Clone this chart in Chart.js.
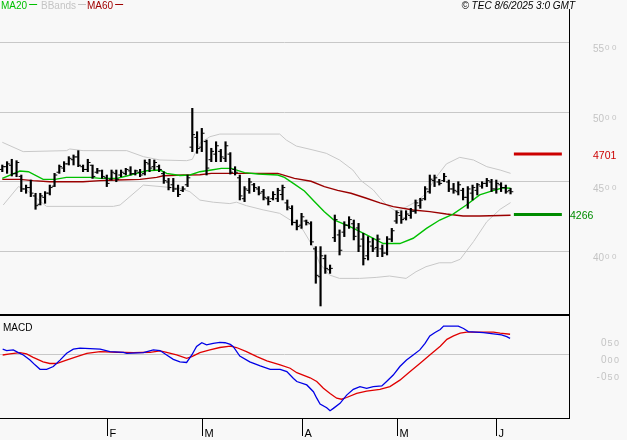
<!DOCTYPE html>
<html><head><meta charset="utf-8">
<script src="https://cdn.jsdelivr.net/npm/chart.js@4.4.1/dist/chart.umd.min.js"></script>
<style>
html,body{margin:0;padding:0;background:#f8f8f8;}
#wrap{position:relative;width:627px;height:440px;overflow:hidden;background:#f8f8f8;}
canvas{position:absolute;left:0;}
#c1{top:0;} #c2{top:315px;}
</style></head><body>
<div id="wrap"><canvas id="c1" width="627" height="315"></canvas><canvas id="c2" width="627" height="125"></canvas></div>
<script>
// ---------- data ----------
const highs = [46.22,46.46,46.63,46.53,45.50,44.78,45.14,44.19,44.19,44.31, 44.78,45.62,46.22,46.46,46.82,46.94,47.25,46.22,46.63,46.22,
 45.98,45.86,45.50,45.86,45.86,45.86,45.98,46.10,45.86,45.91, 46.58,46.63,46.58,46.22,45.74,45.26,45.26,44.78,44.67,45.50,
 50.29,48.61,48.85,48.01,47.42,47.89,47.34,47.89,47.11,46.10, 45.50,44.67,45.26,44.90,44.67,44.47,43.95,44.31,44.55,44.78,
 43.71,43.30,42.27,42.75,42.27,42.15,40.36,40.36,39.76,39.04, 42.63,41.56,42.15,42.51,42.27,42.03,41.32,41.08,40.96,41.20,
 40.48,41.08,41.67,42.94,42.94,42.94,43.11,43.71,43.83,44.67, 45.50,45.50,45.19,45.62,45.14,44.90,45.02,44.55,44.67,44.78,
 44.90,45.02,45.26,45.19,45.14,44.95,44.78,44.55];
const lows = [45.74,45.62,45.43,45.38,44.31,44.19,43.95,43.04,43.35,43.47, 44.07,44.67,45.62,45.74,46.22,46.22,46.10,45.74,45.74,45.26,
 45.62,45.26,44.67,45.14,45.02,45.38,45.50,45.50,45.50,45.38, 45.50,45.74,45.86,45.74,44.90,44.43,44.31,43.95,44.31,44.67,
 47.18,47.06,47.18,45.50,46.46,46.46,46.46,46.46,45.57,45.50, 43.71,43.59,44.19,44.31,44.07,43.71,43.35,43.71,43.59,43.71,
 42.99,41.91,41.56,41.67,41.91,40.48,37.73,36.10,38.44,38.44, 40.72,39.76,41.08,41.67,40.84,40.00,39.04,39.40,40.00,39.64,
 39.64,39.76,40.72,42.03,42.03,42.27,42.39,42.75,43.11,43.71, 44.19,44.67,44.78,45.02,44.31,44.19,44.07,43.71,43.11,43.71,
 44.07,44.55,44.67,44.31,44.19,44.31,44.19,44.14];
const opens = [45.9,46.1,46.2,45.6,45.4,44.5,44.6,44.0,43.4,43.9, 44.2,44.7,45.7,46.0,46.3,46.6,46.8,46.1,45.9,46.2,
 45.7,45.8,45.3,45.2,45.6,45.5,45.6,45.8,45.6,45.7, 45.6,46.3,46.1,46.1,45.6,45.0,44.8,44.5,44.4,44.8,
 47.5,48.2,47.5,47.9,46.6,47.0,47.2,46.7,47.0,45.9, 45.3,43.8,44.4,44.8,44.5,44.3,43.8,43.8,43.8,44.1,
 43.5,43.1,42.1,41.9,42.2,42.0,40.2,38.2,39.5,38.7, 41.0,41.2,41.4,41.9,42.0,41.7,40.9,39.7,40.4,40.3,
 40.2,39.9,40.9,42.2,42.6,42.4,42.6,42.9,43.3,43.8, 44.3,45.1,45.0,45.1,45.0,44.5,44.3,44.4,43.9,44.2,
 44.4,44.7,44.9,45.0,44.5,44.8,44.6,44.4];
const closes = [46.1,46.3,45.6,46.4,44.5,44.6,44.2,43.3,44.0,44.2, 44.6,45.5,46.1,46.3,46.7,46.8,46.2,45.9,46.4,45.4,
 45.8,45.4,44.9,45.7,45.2,45.7,45.9,45.6,45.8,45.5, 46.4,46.0,46.4,45.9,45.1,44.6,44.5,44.1,44.5,45.3,
 48.4,47.4,48.5,46.0,47.2,47.6,46.8,47.6,45.7,45.7, 44.0,44.5,45.0,44.6,44.2,43.9,43.6,44.1,44.4,44.6,
 43.2,42.1,41.8,42.5,42.1,40.7,38.3,39.7,38.8,38.8, 42.3,40.1,41.9,42.3,41.1,40.4,39.5,40.7,40.2,40.9,
 39.9,40.9,41.5,42.8,42.3,42.7,42.9,43.5,43.7,44.5, 45.2,45.3,44.9,45.4,44.5,44.4,44.8,43.9,44.5,44.6,
 44.8,44.9,45.1,44.5,44.9,44.6,44.3,44.3];

const ma20X = [0,3.7,5.5,8.6,11.1,13.5,18.5,20.6,24.1,26.2,28.3,30.4,33.2,34.6,37.4,39.5,41.6,44,46.1,48.2,51,53.8,58,59.4,61.5,63.6,65.7,67.8,69.7,73.2,76.7,80.2,83.7,86.5,89.3,92.1,94.9,97.7,100.5,103.3,105.4,107];
const ma20Y = [45.26,45.79,45.74,45.19,45.19,45.33,45.33,45.26,45.26,45.43,45.62,45.81,45.86,45.62,45.47,45.50,45.74,45.86,45.98,45.98,45.67,45.57,45.50,45.33,44.85,44.35,43.6,42.87,42.30,41.79,41.20,40.58,40.58,40.96,41.67,42.27,42.70,43.35,44.07,44.38,44.59,44.55];
const ma60X = [0,3.7,6.5,10,17,20.6,24.1,29,32.5,33.9,38.1,41.6,44,58,61.5,65,67.8,70.6,73.4,76.5,79.5,82.3,86.5,90,93.5,97,100.5,107];
const ma60Y = [45.19,45.19,45.10,45.02,45.02,45.10,45.14,45.19,45.33,45.45,45.50,45.52,45.62,45.62,45.26,45.05,44.67,44.40,44.19,43.85,43.50,43.23,42.99,42.87,42.70,42.56,42.56,42.61];
const bbUpX = [0,4.4,13.5,14.2,17,26.2,29.7,33.2,38.8,40,41.6,43.7,45.8,58.4,59.8,61.9,65.4,68.2,71,73.8,75.5,78.1,79.4,80.9,83,85,87.2,89.3,91,93.5,96.3,99.2,102,104.8,107];
const bbUpY = [47.85,47.18,47.25,47.37,47.25,47.25,46.82,46.58,46.53,46.63,47.78,48.25,48.44,48.44,48.01,47.58,47.30,47.06,46.58,45.86,45.10,44.43,43.90,43.35,42.87,43.20,43.60,44.20,45.20,46.30,46.77,46.58,46.10,45.86,45.62];
const bbLoX = [0.2,3.4,5.1,9.3,23.4,24.8,29.7,37.4,39.5,41.6,44.4,47.9,49.3,51.4,54.9,58.4,61.2,63.3,65.4,66.8,68.9,71,75.2,78.7,81.5,85,87.1,89.2,92,94.5,96.4,99.2,102,104.8,107];
const bbLoY = [43.35,44.67,44.43,43.25,43.25,43.35,44.78,44.55,44.30,43.70,43.55,43.45,43.55,43.30,43.00,42.75,42.15,41.56,40.36,39.16,38.32,38.08,38.08,38.15,38.25,38.08,38.56,38.92,39.20,39.20,39.45,40.72,42.15,43.04,43.52];

const macdX = [0.08,0.92,2.32,3.37,4.43,5.83,6.88,7.94,9.34,10.74,12.15,13.55,14.95,16.36,20.6,22.67,25.5,26.2,29.7,31.8,33.2,34.6,36.0,37.4,38.8,39.9,40.9,42.0,43.0,44.4,45.8,46.9,48.0,48.6,50.0,52.1,54.3,56.4,58.5,59.9,61.3,62.0,64.1,65.5,66.2,66.9,68.3,69.0,69.7,71.1,72.5,73.9,75.3,76.7,78.1,79.9,80.9,82.3,83.7,85.1,86.5,87.9,89.0,90.0,91.1,92.2,92.9,96.0,97.1,98.1,101.3,103.4,105.1,106.2,106.9];
const macdY = [0.17,0.13,0.15,0.07,0,-0.15,-0.29,-0.42,-0.42,-0.34,-0.15,0.05,0.17,0.20,0.17,0.10,0.08,0.05,0.07,0.15,0.13,0,-0.13,-0.20,-0.22,0,0.25,0.36,0.30,0.34,0.37,0.36,0.31,0.25,-0.03,-0.20,-0.32,-0.42,-0.42,-0.49,-0.69,-0.78,-0.88,-1.08,-1.27,-1.44,-1.55,-1.64,-1.57,-1.42,-1.18,-1.01,-0.93,-0.98,-0.93,-0.91,-0.78,-0.59,-0.34,-0.15,0,0.15,0.34,0.56,0.66,0.75,0.85,0.85,0.78,0.69,0.66,0.62,0.59,0.54,0.49];
const signalX = [0.08,1.6,3.7,5.1,6.5,8.6,10.0,11.4,13.5,15.7,17.8,20.6,24.1,27.6,31.1,33.2,34.6,36.7,38.8,39.9,41.6,43.7,45.8,48.0,49.3,51.4,53.6,55.7,58.5,60.6,62.0,64.8,66.2,67.6,69.0,70.4,71.4,72.5,74.6,76.7,79.5,81.6,83.7,85.8,87.9,90.0,92.2,93.6,95.0,96.4,97.8,103.4,104.8,106.9];
const signalY = [0,0.03,0.07,0.03,-0.07,-0.20,-0.25,-0.25,-0.15,-0.05,0.05,0.10,0.08,0.07,0.08,0.12,0.08,0,-0.10,-0.05,0.07,0.15,0.22,0.26,0.22,0.10,-0.05,-0.17,-0.29,-0.39,-0.52,-0.67,-0.78,-0.98,-1.13,-1.27,-1.30,-1.25,-1.13,-1.06,-1.01,-0.93,-0.74,-0.49,-0.25,0,0.26,0.46,0.56,0.64,0.67,0.67,0.64,0.61];

const priceTicks = [40,45,50,55];
const macdTicks = [0.5,0,-0.5];
const monthLabels = ['F','M','A','M','J'];
const monthIdx = [22,42,63,83,104];
const resistance = 47.01;
const support = 42.66;
const levelX = [107.7,117.8];
const stamp = '© TEC 8/6/2025 3:0 GMT';

// ---------- helpers ----------
const zip = (xs, ys) => xs.map((x, i) => ({x: x, y: ys[i]}));
const FONT = '"Liberation Sans", Arial, sans-serif';
const X_MIN = -0.484, X_MAX = 119.305;
const fitRight = s => { s.width = 58; };

const topDecor = {
  id: 'topDecor',
  afterDraw(chart) {
    const c = chart.ctx, y = chart.scales.y;
    c.save();
    c.textAlign = 'left';
    c.textBaseline = 'alphabetic';
    c.font = '10px ' + FONT;
    const items = [['MA20', '#00c000', 1], ['BBands', '#c4c4c4', 41], ['MA60', '#a00000', 87]];
    items.forEach(([t, col, x0]) => {
      c.fillStyle = col; c.fillText(t, x0, 9);
      const w = c.measureText(t).width;
      c.fillRect(x0 + w + 2, 4, 8, 1);
    });
    c.font = 'italic 10px ' + FONT;
    c.fillStyle = '#000'; c.textAlign = 'right';
    c.fillText(stamp, 575, 9);
    c.textAlign = 'left';
    c.fillRect(569, 9, 1, 306);
    c.fillRect(0, 314, 570, 1);
    priceTicks.forEach(v => {
      const py = y.getPixelForValue(v);
      const parts = v.toFixed(2).split('.');
      c.fillStyle = '#c4c4c4';
      c.font = '10px ' + FONT;
      c.letterSpacing = '0px';
      c.fillText(parts[0], 593, py + 9.7);
      const w = c.measureText(parts[0]).width;
      c.font = '8px ' + FONT;
      c.letterSpacing = '2.5px';
      c.fillText(parts[1], 594 + w, py + 7.6);
      c.letterSpacing = '0px';
    });
    c.font = '10.5px ' + FONT;
    c.fillStyle = '#cc0000';
    c.fillText((resistance * 100).toFixed(0), 593, y.getPixelForValue(resistance) + 4.6);
    c.fillStyle = '#008c00';
    c.fillText((support * 100).toFixed(0), 570, y.getPixelForValue(support) + 4.6);
    c.restore();
  }
};

const botDecor = {
  id: 'botDecor',
  afterDraw(chart) {
    const c = chart.ctx, y = chart.scales.y, x = chart.scales.x;
    c.save();
    c.textAlign = 'left';
    c.textBaseline = 'alphabetic';
    c.fillStyle = '#000';
    c.font = '10px ' + FONT;
    c.fillText('MACD', 3, 16);
    c.fillRect(0, 0, 570, 1);
    c.fillRect(569, 0, 1, 104);
    c.fillRect(0, 103, 570, 1);
    macdTicks.forEach(v => {
      const py = y.getPixelForValue(v);
      const parts = Math.abs(v).toFixed(2).split('.');
      c.fillStyle = '#c4c4c4';
      c.font = '10px ' + FONT;
      c.letterSpacing = '0px';
      if (v < 0) c.fillText('-', 596.5, py + 8.3);
      c.fillText(parts[0], 601, py + 8.3);
      const w = c.measureText(parts[0]).width;
      c.font = '9px ' + FONT;
      c.letterSpacing = '1.5px';
      c.fillText(parts[1], 602 + w, py + 7.6);
      c.letterSpacing = '0px';
    });
    c.fillStyle = '#000';
    c.font = '11px ' + FONT;
    monthIdx.forEach((m, i) => {
      const px = Math.round(x.getPixelForValue(m));
      c.fillRect(px, 104, 1, 17);
      c.fillText(monthLabels[i], px + 2.5, 121.7);
    });
    c.restore();
  }
};

const common = {
  responsive: false,
  animation: false,
  events: [],
  layout: {padding: 0, autoPadding: false},
  plugins: {legend: {display: false}, tooltip: {enabled: false}}
};

new Chart(document.getElementById('c1'), {
  type: 'bar',
  data: {
    datasets: [
      {type: 'bar', order: 0, data: highs.map((h, i) => ({x: i, y: [lows[i], h]})),
       backgroundColor: '#000', borderWidth: 0, barThickness: 1.5},
      {type: 'line', order: 0, data: opens.map((o, i) => ({x: i - 0.35, y: o})), showLine: false,
       pointStyle: 'line', pointRadius: 1.1, pointBorderWidth: 1, pointBorderColor: '#000', borderColor: '#000'},
      {type: 'line', order: 0, data: closes.map((o, i) => ({x: i + 0.35, y: o})), showLine: false,
       pointStyle: 'line', pointRadius: 1.1, pointBorderWidth: 1, pointBorderColor: '#000', borderColor: '#000'},
      {type: 'line', order: 1, data: zip(ma20X, ma20Y), borderColor: '#00c000', borderWidth: 1.4, pointRadius: 0, tension: 0},
      {type: 'line', order: 2, data: zip(ma60X, ma60Y), borderColor: '#9a0000', borderWidth: 1.4, pointRadius: 0, tension: 0},
      {type: 'line', order: 3, data: zip(bbUpX, bbUpY), borderColor: '#c8c8c8', borderWidth: 1, pointRadius: 0, tension: 0},
      {type: 'line', order: 3, data: zip(bbLoX, bbLoY), borderColor: '#c8c8c8', borderWidth: 1, pointRadius: 0, tension: 0},
      {type: 'line', order: 1, data: levelX.map(x => ({x: x, y: resistance})), borderColor: '#cc0000', borderWidth: 3, pointRadius: 0},
      {type: 'line', order: 1, data: levelX.map(x => ({x: x, y: support})), borderColor: '#008c00', borderWidth: 3, pointRadius: 0}
    ]
  },
  options: Object.assign({}, common, {
    scales: {
      x: {type: 'linear', min: X_MIN, max: X_MAX, display: false, offset: false, grid: {offset: false}},
      y: {type: 'linear', position: 'right', min: 35.452, max: 58.065,
          afterFit: fitRight,
          afterBuildTicks: s => { s.ticks = priceTicks.map(v => ({value: v})); },
          ticks: {display: false},
          border: {display: false},
          grid: {color: '#c8c8c8', lineWidth: 1, drawTicks: false}}
    }
  }),
  plugins: [topDecor]
});

new Chart(document.getElementById('c2'), {
  type: 'line',
  data: {
    datasets: [
      {data: zip(macdX, macdY), borderColor: '#0000e6', borderWidth: 1.3, pointRadius: 0, tension: 0},
      {data: zip(signalX, signalY), borderColor: '#e00000', borderWidth: 1.3, pointRadius: 0, tension: 0}
    ]
  },
  options: Object.assign({}, common, {
    layout: {padding: {top: 0, left: 0, right: 0, bottom: 21}, autoPadding: false},
    scales: {
      x: {type: 'linear', min: X_MIN, max: X_MAX, display: false, offset: false},
      y: {type: 'linear', position: 'right', min: -1.882, max: 1.176,
          afterFit: fitRight,
          afterBuildTicks: s => { s.ticks = [{value: 0}]; },
          ticks: {display: false},
          border: {display: false},
          grid: {color: '#c8c8c8', lineWidth: 1, drawTicks: false}}
    }
  }),
  plugins: [botDecor]
});
</script>
</body></html>
